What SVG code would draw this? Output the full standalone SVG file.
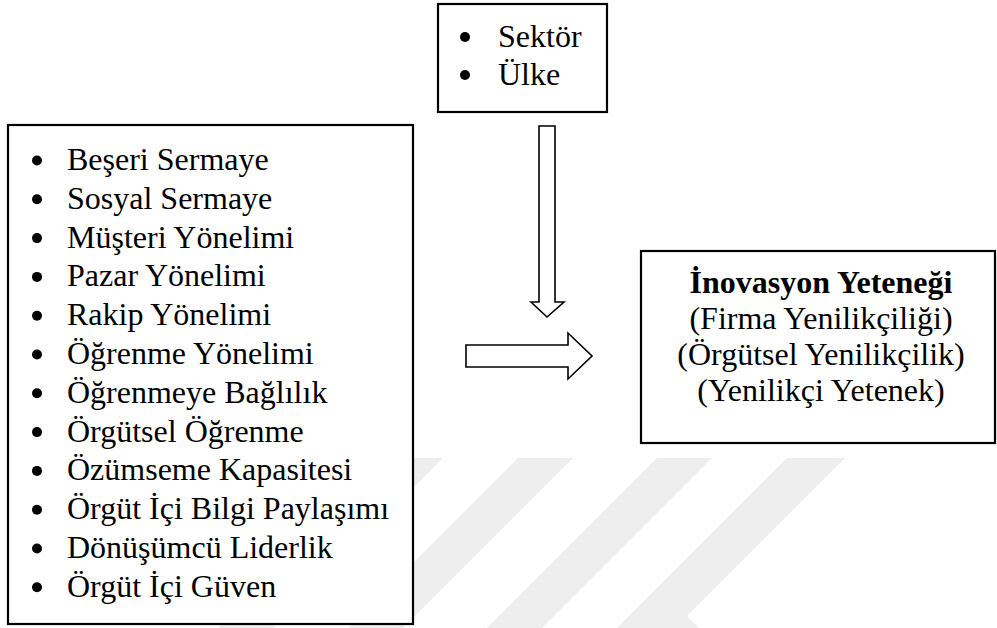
<svg xmlns="http://www.w3.org/2000/svg" width="997" height="628" viewBox="0 0 997 628">
<style>
.box{fill:#fff;stroke:#000;stroke-width:2.2}
.t{font-family:"Liberation Serif","Times New Roman",serif;font-size:32px;fill:#000}
.b{font-weight:bold}
.dot{fill:#000}
.arr{fill:#fff;stroke:#000;stroke-width:1.6;stroke-linejoin:miter}
.wm{fill:#eeeeee}
</style>
<rect width="997" height="628" fill="#fff"/>
<g id="watermark">
<polygon class="wm" points="388,458 443,458 273,628 218,628"/>
<polygon class="wm" points="518,458 573,458 403,628 348,628"/>
<polygon class="wm" points="657,458 712,458 542,628 487,628"/>
<polygon class="wm" points="787,458 845,458 687,616 699,628 617,628"/>
</g>
<g id="connectors">
<polygon class="arr" points="539,126 555,126 555,302 564,302 547,317 531,302 539,302"/>
<polygon class="arr" points="466,345 568,345 568,333 592,356 568,379 568,367 466,367"/>
</g>
<g id="node-context">
<rect class="box" x="438" y="4" width="169" height="108"/>
<circle class="dot" cx="465" cy="37" r="5"/>
<text class="t" x="498" y="47">Sektör</text>
<circle class="dot" cx="465" cy="75" r="5"/>
<text class="t" x="498" y="85">Ülke</text>
</g>
<g id="node-factors">
<rect class="box" x="8" y="125" width="405" height="499"/>
<g class="dot">
<circle cx="37" cy="160.5" r="5"/><circle cx="37" cy="199.3" r="5"/><circle cx="37" cy="238.1" r="5"/><circle cx="37" cy="276.9" r="5"/>
<circle cx="37" cy="315.7" r="5"/><circle cx="37" cy="354.5" r="5"/><circle cx="37" cy="393.3" r="5"/><circle cx="37" cy="432.1" r="5"/>
<circle cx="37" cy="470.9" r="5"/><circle cx="37" cy="509.7" r="5"/><circle cx="37" cy="548.5" r="5"/><circle cx="37" cy="587.3" r="5"/>
</g>
<text class="t" x="67" y="170">Beşeri Sermaye</text>
<text class="t" x="67" y="208.8">Sosyal Sermaye</text>
<text class="t" x="67" y="247.6">Müşteri Yönelimi</text>
<text class="t" x="67" y="286.4">Pazar Yönelimi</text>
<text class="t" x="67" y="325.2">Rakip Yönelimi</text>
<text class="t" x="67" y="364">Öğrenme Yönelimi</text>
<text class="t" x="67" y="402.8">Öğrenmeye Bağlılık</text>
<text class="t" x="67" y="441.6">Örgütsel Öğrenme</text>
<text class="t" x="67" y="480.4">Özümseme Kapasitesi</text>
<text class="t" x="67" y="519.2">Örgüt İçi Bilgi Paylaşımı</text>
<text class="t" x="67" y="558">Dönüşümcü Liderlik</text>
<text class="t" x="67" y="596.8">Örgüt İçi Güven</text>
</g>
<g id="node-outcome">
<rect class="box" x="641" y="251" width="354" height="192"/>
<text class="t b" x="821" y="293" text-anchor="middle">İnovasyon Yeteneği</text>
<text class="t" x="821" y="329" text-anchor="middle">(Firma Yenilikçiliği)</text>
<text class="t" x="821" y="365" text-anchor="middle">(Örgütsel Yenilikçilik)</text>
<text class="t" x="821" y="401" text-anchor="middle">(Yenilikçi Yetenek)</text>
</g>
</svg>
